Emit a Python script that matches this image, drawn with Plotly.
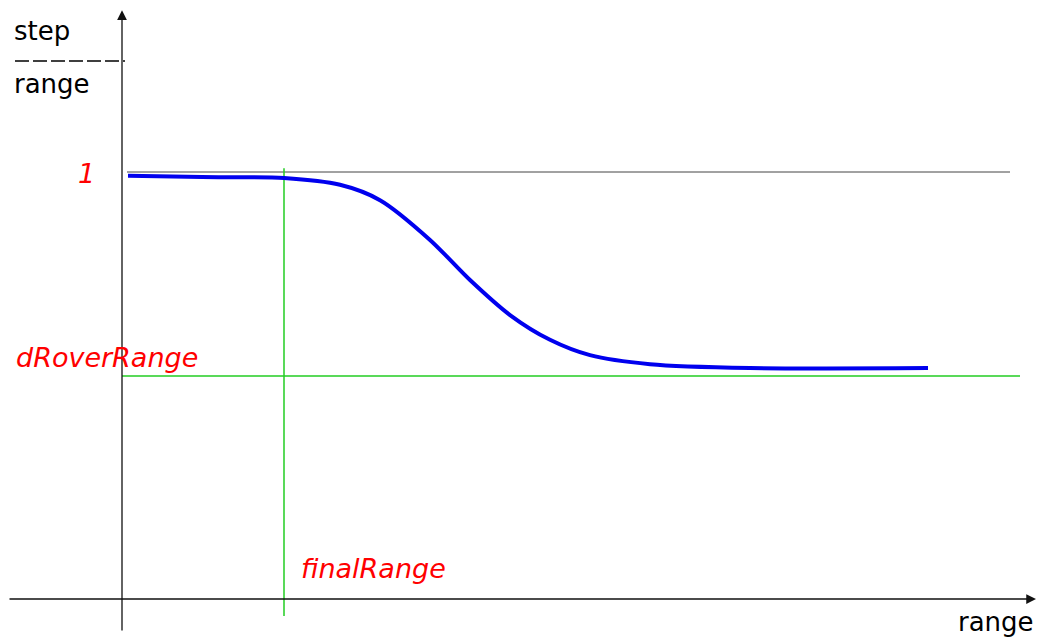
import plotly.graph_objects as go

# ---- data (x in "range" units, y in "step/range" units) ----
curve_x = [0.06, 0.80, 1.62, 2.18, 2.58, 3.08, 3.48, 3.88, 4.28, 4.68, 5.28, 6.28, 8.06]
curve_y = [0.991, 0.988, 0.986, 0.970, 0.934, 0.841, 0.747, 0.665, 0.607, 0.571, 0.550, 0.541, 0.541]
final_range = 1.62
d_rover_range = 0.522
unit_level = 1.0
unit_line_x = [0.05, 8.88]
d_rover_line_x = [0.0, 8.98]
final_line_y = [-0.04, 1.009]
x_axis_span = [-1.14, 9.14]
y_axis_span = [-0.077, 1.379]
labels = {"y_num": "step", "y_den": "range", "x": "range",
          "one": "1", "dr": "dRoverRange", "fr": "finalRange"}

X_RANGE = [-1.22, 9.15]
Y_RANGE = [-0.089, 1.4028]

fig = go.Figure()

# unit line at y = 1
fig.add_trace(go.Scatter(x=unit_line_x, y=[unit_level, unit_level], mode="lines",
                         line=dict(color="#444444", width=1), hoverinfo="skip"))
# dRoverRange green line
fig.add_trace(go.Scatter(x=d_rover_line_x, y=[d_rover_range, d_rover_range], mode="lines",
                         line=dict(color="#22cc22", width=1.5), hoverinfo="skip"))
# finalRange green line
fig.add_trace(go.Scatter(x=[final_range, final_range], y=final_line_y, mode="lines",
                         line=dict(color="#22cc22", width=1.5), hoverinfo="skip"))
# blue curve
fig.add_trace(go.Scatter(x=curve_x, y=curve_y, mode="lines",
                         line=dict(color="#0000ee", width=4, shape="spline", smoothing=0.8),
                         hoverinfo="skip"))

# axes with arrows
fig.add_annotation(x=x_axis_span[1], y=0, ax=x_axis_span[0], ay=0, xref="x", yref="y",
                   axref="x", ayref="y", showarrow=True, arrowhead=2, arrowsize=1.5,
                   arrowwidth=1.3, arrowcolor="#111111", text="")
fig.add_annotation(x=0, y=y_axis_span[1], ax=0, ay=y_axis_span[0], xref="x", yref="y",
                   axref="x", ayref="y", showarrow=True, arrowhead=2, arrowsize=1.5,
                   arrowwidth=1.3, arrowcolor="#111111", text="")

# fraction dashes
fig.add_shape(type="line", xref="paper", yref="paper", x0=15/1037, x1=125/1037,
              y0=1-61/637, y1=1-61/637, line=dict(color="black", width=1.5, dash="14px,4px"))

FONT = "DejaVu Sans"
def txt(s, x, y, xa, color="black", italic=False, size=26):
    fig.add_annotation(text=s, x=x, y=y, xref="paper", yref="paper", xanchor=xa,
                       yanchor="middle", showarrow=False,
                       font=dict(family=FONT, size=size, color=color,
                                 style="italic" if italic else "normal"))

txt(labels["y_num"], 12/1037, 1-31/637, "left")
txt(labels["y_den"], 12/1037, 1-84/637, "left")
txt(labels["x"], 1036/1037, 1-622/637, "right")
txt(labels["one"], 97/1037, 1-173/637, "right", "red", True, 27)
txt(labels["dr"], 14/1037, 1-357/637, "left", "red", True, 27)
txt(labels["fr"], 299/1037, 1-568/637, "left", "red", True, 27)

fig.update_layout(width=1037, height=637, margin=dict(l=0, r=0, t=0, b=0),
                  plot_bgcolor="white", paper_bgcolor="white", showlegend=False,
                  xaxis=dict(range=X_RANGE, visible=False, fixedrange=True),
                  yaxis=dict(range=Y_RANGE, visible=False, fixedrange=True))

fig.write_html("out.html", config={"displayModeBar": False},
               post_script="document.body.style.margin='0';document.body.style.overflow='hidden';")
